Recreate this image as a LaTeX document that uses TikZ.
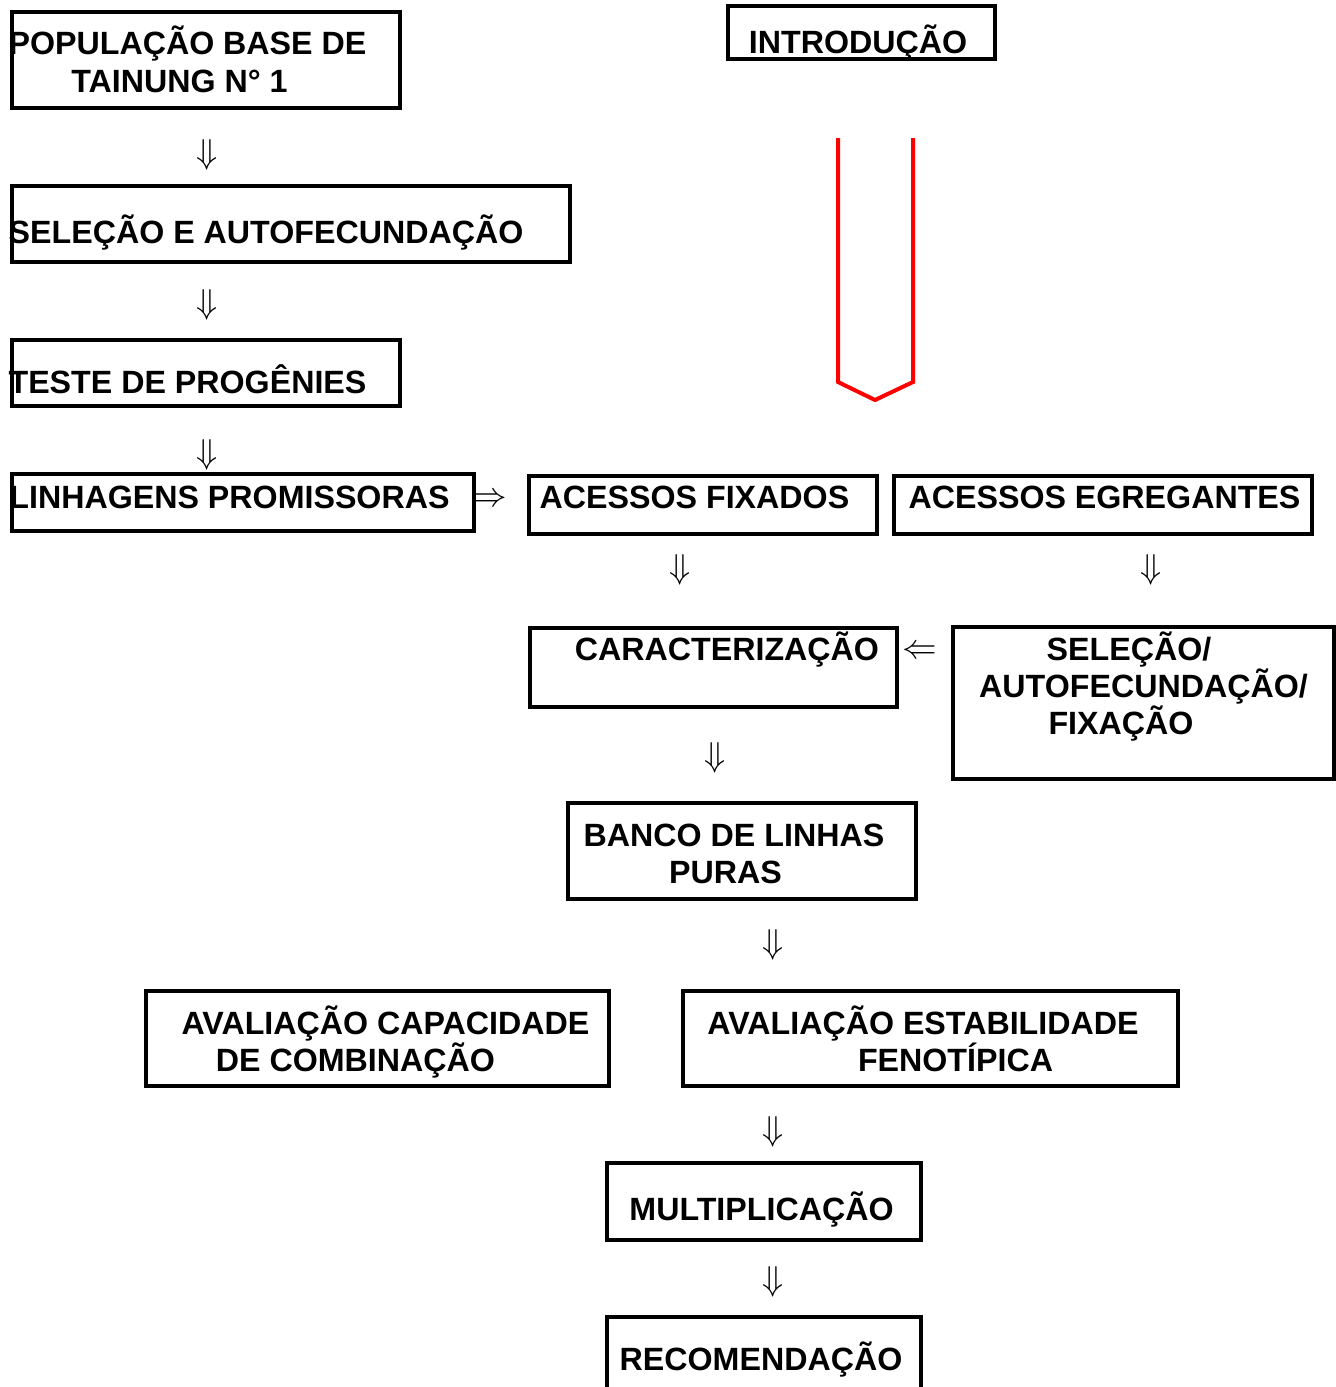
\documentclass[tikz,border=0pt]{standalone}
\usepackage{fontspec}
\setmainfont{Liberation Sans}
\usetikzlibrary{fit}
\begin{document}
\begin{tikzpicture}[x=0.5pt,y=-0.5pt,
  box/.style={draw=black,line width=2pt,inner sep=0pt},
  txt/.style={inner sep=0pt,anchor=base,font=\fontsize{16.1}{19}\selectfont\bfseries},
  arr/.style={inner sep=0pt,font=\fontsize{17.5}{20}\selectfont},
  redline/.style={draw=red,line width=2pt,miter limit=10}]
\useasboundingbox (0,0) rectangle (1336,1387);
% boxes
\node[box,fit={(12,12)(400,108)}] (pop) {};
\node[box,fit={(728,6)(995,59)}] (intro) {};
\node[box,fit={(12,186)(570,262)}] (sel) {};
\node[box,fit={(12,340)(400,406)}] (teste) {};
\node[box,fit={(12,474)(474,531)}] (lin) {};
\node[box,fit={(529,476)(877,534)}] (fix) {};
\node[box,fit={(894,476)(1312,534)}] (egr) {};
\node[box,fit={(530,628)(897,707)}] (car) {};
\node[box,fit={(953,627)(1334,779)}] (saf) {};
\node[box,fit={(568,803)(916,899)}] (banco) {};
\node[box,fit={(146,991)(609,1086)}] (capac) {};
\node[box,fit={(683,991)(1178,1086)}] (estab) {};
\node[box,fit={(607,1163)(921,1240)}] (mult) {};
\node[box,fit={(607,1317)(921,1392)}] (recom) {};
% texts
\node[txt] (t1a) at (187.5,54) {POPULAÇÃO BASE DE};
\node[txt] (t1b) at (179.5,92) {TAINUNG N° 1};
\node[txt] (t2) at (858,53) {INTRODUÇÃO};
\node[txt] (t3) at (266,243) {SELEÇÃO E AUTOFECUNDAÇÃO};
\node[txt] (t4) at (187.5,393) {TESTE DE PROGÊNIES};
\node[txt] (t5) at (229.5,508) {LINHAGENS PROMISSORAS};
\node[txt] (t6) at (694.5,508) {ACESSOS FIXADOS};
\node[txt] (t7) at (1104.5,508) {ACESSOS EGREGANTES};
\node[txt] (t8) at (727,660) {CARACTERIZAÇÃO};
\node[txt] (t9a) at (1129,660) {SELEÇÃO/};
\node[txt] (t9b) at (1143.5,697) {AUTOFECUNDAÇÃO/};
\node[txt] (t9c) at (1121,734) {FIXAÇÃO};
\node[txt] (t10a) at (734,846) {BANCO DE LINHAS};
\node[txt] (t10b) at (725.5,883) {PURAS};
\node[txt] (t11a) at (385.5,1034) {AVALIAÇÃO CAPACIDADE};
\node[txt] (t11b) at (355.5,1071) {DE COMBINAÇÃO};
\node[txt] (t12a) at (923,1034) {AVALIAÇÃO ESTABILIDADE};
\node[txt] (t12b) at (955.5,1071) {FENOTÍPICA};
\node[txt] (t13) at (761.5,1220) {MULTIPLICAÇÃO};
\node[txt] (t14) at (761,1370) {RECOMENDAÇÃO};
% arrow glyphs
\node[arr] (a1) at (207,155) {$\Downarrow$};
\node[arr] (a2) at (207,305) {$\Downarrow$};
\node[arr] (a3) at (207,455) {$\Downarrow$};
\node[arr] (a4) at (680,570) {$\Downarrow$};
\node[arr] (a5) at (1151,570) {$\Downarrow$};
\node[arr] (a6) at (715,758) {$\Downarrow$};
\node[arr] (a7) at (773,945) {$\Downarrow$};
\node[arr] (a8) at (773,1132) {$\Downarrow$};
\node[arr] (a9) at (773,1282) {$\Downarrow$};
\node[arr] (ar) at (490,500) {$\Rightarrow$};
\node[arr] (al) at (920,652) {$\Leftarrow$};
% red shape
\coordinate (r1) at (838,138);
\coordinate (r2) at (838,382);
\coordinate (r3) at (875,400);
\coordinate (r4) at (913,382);
\coordinate (r5) at (913,138);
\draw[redline] (r1) -- (r2) -- (r3) -- (r4) -- (r5);
\end{tikzpicture}
\end{document}
